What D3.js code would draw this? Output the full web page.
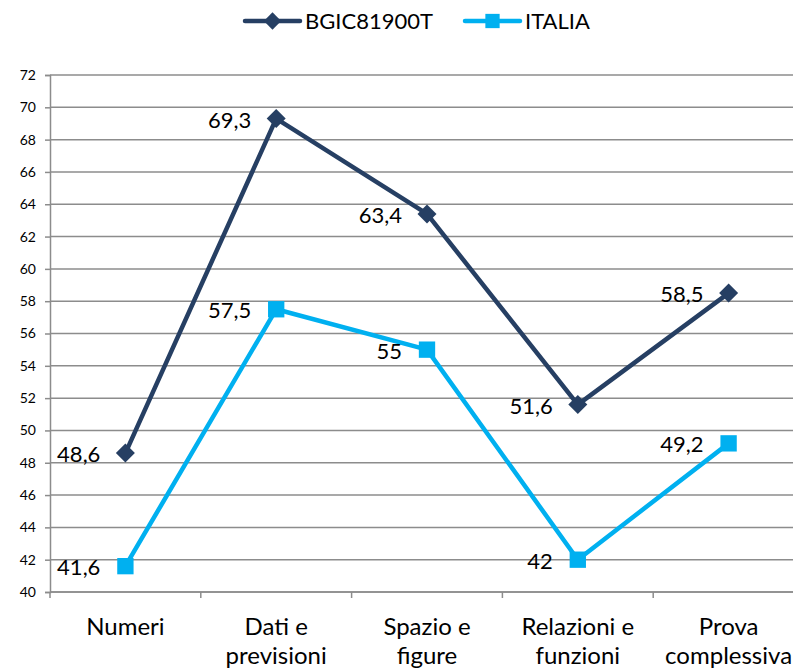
<!DOCTYPE html>
<html>
<head>
<meta charset="utf-8">
<script src="https://cdn.jsdelivr.net/npm/d3@7"></script>
<style>
  html, body { margin: 0; padding: 0; background: #fff; }
  svg { display: block; font-family: Lato, "Open Sans", sans-serif; }
</style>
</head>
<body>
<svg id="chart" width="793" height="671"></svg>
<script>
// Categories (two-line labels) and the two series
const categories = ["Numeri", "Dati e previsioni", "Spazio e figure", "Relazioni e funzioni", "Prova complessiva"];
const categoryLines = [["Numeri"], ["Dati e", "previsioni"], ["Spazio e", "figure"], ["Relazioni e", "funzioni"], ["Prova", "complessiva"]];
const schoolValues = [48.6, 69.3, 63.4, 51.6, 58.5];
const italyValues = [41.6, 57.5, 55, 42, 49.2];
const seriesNames = ["BGIC81900T", "ITALIA"];
const yTicks = d3.range(40, 73, 2);

const navy = "#263F63";
const cyan = "#00B0F0";
const gridColor = "#8C8C8C";

const svg = d3.select("#chart");
const plotLeft = 50, plotRight = 804, plotTop = 75, plotBottom = 592;

const x = d3.scaleBand().domain(categories).range([plotLeft, plotRight]);
const y = d3.scaleLinear().domain([40, 72]).range([plotBottom, plotTop]);

// horizontal gridlines
svg.append("g").selectAll("line").data(yTicks).join("line")
  .attr("x1", plotLeft).attr("x2", plotRight)
  .attr("y1", d => y(d)).attr("y2", d => y(d))
  .attr("stroke", gridColor).attr("stroke-width", 1.5);

// y axis
const yAxis = svg.append("g").attr("transform", `translate(${plotLeft},0)`)
  .call(d3.axisLeft(y).tickValues(yTicks).tickSize(5).tickPadding(9).tickFormat(d3.format("d")));
yAxis.select(".domain").attr("stroke", gridColor).attr("stroke-width", 1.5);
yAxis.selectAll(".tick line").attr("stroke", gridColor).attr("stroke-width", 1.5);
yAxis.selectAll("text").attr("font-size", 14).attr("fill", "#000").attr("font-family", "Lato, sans-serif");

// x axis baseline and category boundary ticks
svg.append("line").attr("x1", plotLeft).attr("x2", plotRight).attr("y1", plotBottom).attr("y2", plotBottom)
  .attr("stroke", gridColor).attr("stroke-width", 1.5);
const boundaries = categories.map(c => x(c)).concat([x(categories[categories.length - 1]) + x.bandwidth()]);
svg.append("g").selectAll("line").data(boundaries).join("line")
  .attr("x1", d => d).attr("x2", d => d)
  .attr("y1", plotBottom).attr("y2", plotBottom + 6)
  .attr("stroke", gridColor).attr("stroke-width", 1.5);

// category labels
const cx = c => x(c) + x.bandwidth() / 2;
const catLabels = svg.append("g").selectAll("text").data(categories).join("text")
  .attr("x", d => cx(d)).attr("y", 635)
  .attr("text-anchor", "middle").attr("font-size", 24).attr("fill", "#000");
catLabels.each(function(d, i) {
  d3.select(this).selectAll("tspan").data(categoryLines[i]).join("tspan")
    .attr("x", cx(d)).attr("dy", (t, j) => j === 0 ? 0 : 29).text(t => t);
});

const line = d3.line().x((d, i) => cx(categories[i])).y(d => y(d));

function drawSeries(values, color, shape, size) {
  svg.append("path").datum(values).attr("d", line)
    .attr("fill", "none").attr("stroke", color).attr("stroke-width", 4.5)
    .attr("stroke-linejoin", "round").attr("stroke-linecap", "round");
  svg.append("g").selectAll("path").data(values).join("path")
    .attr("transform", (d, i) => `translate(${cx(categories[i])},${y(d)})`)
    .attr("d", d3.symbol().type(shape).size(size))
    .attr("fill", color);
  svg.append("g").selectAll("text").data(values).join("text")
    .attr("x", (d, i) => cx(categories[i]) - 25)
    .attr("y", d => y(d) + 9)
    .attr("text-anchor", "end").attr("font-size", 22).attr("fill", "#000")
    .text(d => String(d).replace(".", ","));
}

drawSeries(schoolValues, navy, d3.symbolDiamond2, 230);
drawSeries(italyValues, cyan, d3.symbolSquare2, 340);

// legend
const legend = [
  { name: seriesNames[0], color: navy, shape: d3.symbolDiamond2, size: 190, x0: 245 },
  { name: seriesNames[1], color: cyan, shape: d3.symbolSquare2, size: 260, x0: 465 }
];
const lg = svg.append("g");
legend.forEach(l => {
  lg.append("line").attr("x1", l.x0).attr("x2", l.x0 + 55).attr("y1", 21).attr("y2", 21)
    .attr("stroke", l.color).attr("stroke-width", 4.5).attr("stroke-linecap", "round");
  lg.append("path").attr("transform", `translate(${l.x0 + 27.5},21)`)
    .attr("d", d3.symbol().type(l.shape).size(l.size)).attr("fill", l.color);
  lg.append("text").attr("x", l.x0 + 60).attr("y", 29)
    .attr("font-size", 22).attr("fill", "#000").text(l.name);
});
</script>
</body>
</html>
